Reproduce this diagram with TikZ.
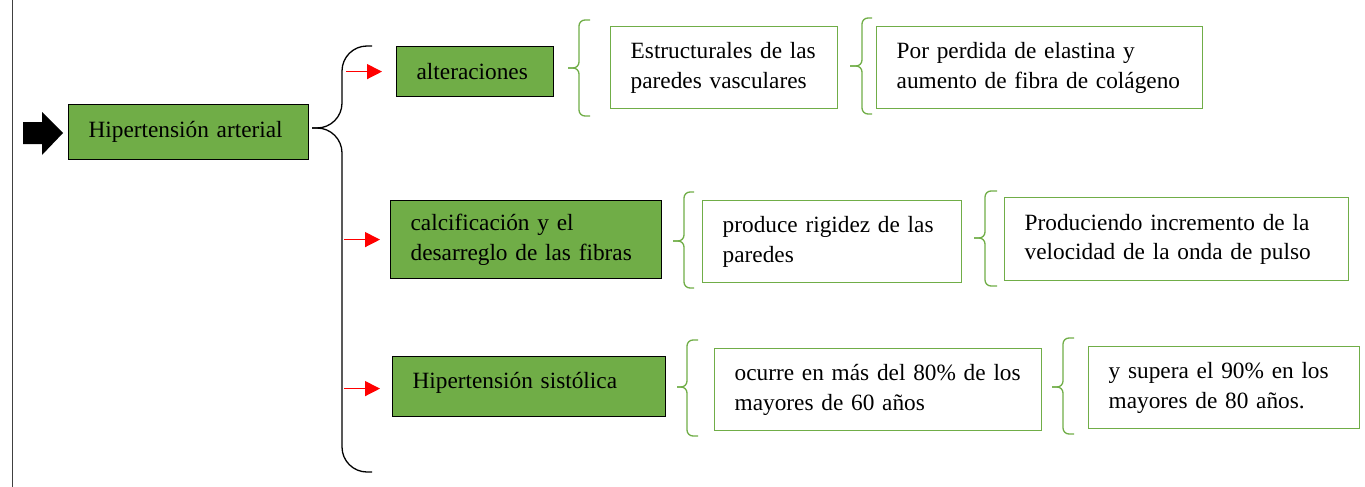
\documentclass[tikz,border=0pt]{standalone}
\usepackage{fontspec}
\setmainfont{Liberation Serif}
\usetikzlibrary{arrows.meta}
\definecolor{offgreen}{HTML}{70AD47}
\newcommand\oneline[1]{\mbox{#1}}
\begin{document}
\begin{tikzpicture}[x=1pt,y=-1pt,
  every node/.style={font=\fontsize{23.3pt}{29.5pt}\selectfont},
  boxbase/.style={anchor=north west, inner xsep=20pt, inner ysep=0pt, align=left},
  filled/.style={boxbase, fill=offgreen, draw=black, line width=1.2pt},
  outlined/.style={boxbase, draw=offgreen, line width=1.4pt},
  brk/.style={draw=offgreen, line width=1.3pt, rounded corners=6pt},
  bigbrace/.style={draw=black, line width=1.3pt, rounded corners=25pt},
  redarrow/.style={red, line width=1.3pt, -{Triangle[length=15pt,width=15pt]}}
]
\useasboundingbox (0,0) rectangle (1365,487);

% left rule
\draw[line width=1.5pt, black!75] (12.5,0) -- (12.5,487);

% block arrow
\fill[black] (23,122) -- (42,122) -- (42,112) -- (63,133) -- (42,155) -- (42,144) -- (23,144) -- cycle;

% main node
\node[filled, minimum width=240pt, text width=200pt, minimum height=55pt] (hta) at (68,104) {\oneline{Hipertensión arterial}};

% big brace
\coordinate (tip) at (312,128);
\draw[bigbrace] (372,46) -- (342,46) -- (342,128) -- (tip);
\draw[bigbrace] (372,472) -- (342,472) -- (342,128) -- (tip);

% second level
\node[filled, minimum width=157pt, text width=117pt, minimum height=50pt] (alt) at (396,46) {\oneline{alteraciones}};
\node[filled, minimum width=271pt, text width=231pt, minimum height=78pt] (calc) at (390,200) {\oneline{calcificación y el}\\\oneline{desarreglo de las fibras}};
\node[filled, minimum width=273pt, text width=233pt, minimum height=60pt, text depth=12pt] (sist) at (392,356) {\oneline{Hipertensión sistólica}};

\draw[redarrow] ([xshift=-50pt]alt.west) -- ([xshift=-14pt]alt.west);
\draw[redarrow] ([xshift=-46pt]calc.west) -- ([xshift=-10pt]calc.west);
\draw[redarrow] ([xshift=-48pt,yshift=-2pt]sist.west) -- ([xshift=-12pt,yshift=-2pt]sist.west);

% third level
\node[outlined, minimum width=227pt, text width=187pt, minimum height=82pt] (est) at (610,26) {\oneline{Estructurales de las}\\\oneline{paredes vasculares}};
\node[outlined, minimum width=326pt, text width=286pt, minimum height=82pt] (por) at (876,26) {\oneline{Por perdida de elastina y}\\\oneline{aumento de fibra de colágeno}};
\node[outlined, minimum width=259pt, text width=219pt, minimum height=82pt] (prod) at (702,200) {\oneline{produce rigidez de las}\\\oneline{paredes}};
\node[outlined, minimum width=344pt, text width=304pt, minimum height=83pt] (produc) at (1004,197) {\oneline{Produciendo incremento de la}\\\oneline{velocidad de la onda de pulso}};
\node[outlined, minimum width=327pt, text width=287pt, minimum height=82pt] (ocurre) at (714,348) {\oneline{ocurre en más del 80\% de los}\\\oneline{mayores de 60 años}};
\node[outlined, minimum width=271pt, text width=231pt, minimum height=82pt] (supera) at (1088,346) {\oneline{y supera el 90\% en los}\\\oneline{mayores de 80 años.}};

% green brackets
\draw[brk] (590,20) -- (579,20) -- (579,68) -- (568,68);
\draw[brk] (590,116) -- (579,116) -- (579,68) -- (568,68);
\draw[brk] (872,18) -- (862,18) -- (862,66) -- (850,66);
\draw[brk] (872,114) -- (862,114) -- (862,66) -- (850,66);
\draw[brk] (694,192) -- (684,192) -- (684,241) -- (673,241);
\draw[brk] (694,288) -- (684,288) -- (684,241) -- (673,241);
\draw[brk] (997,191) -- (985,191) -- (985,238) -- (974,238);
\draw[brk] (997,286) -- (985,286) -- (985,238) -- (974,238);
\draw[brk] (698,340) -- (687,340) -- (687,387) -- (677,387);
\draw[brk] (698,436) -- (687,436) -- (687,387) -- (677,387);
\draw[brk] (1074,338) -- (1063,338) -- (1063,387) -- (1052,387);
\draw[brk] (1074,434) -- (1063,434) -- (1063,387) -- (1052,387);
\end{tikzpicture}
\end{document}
